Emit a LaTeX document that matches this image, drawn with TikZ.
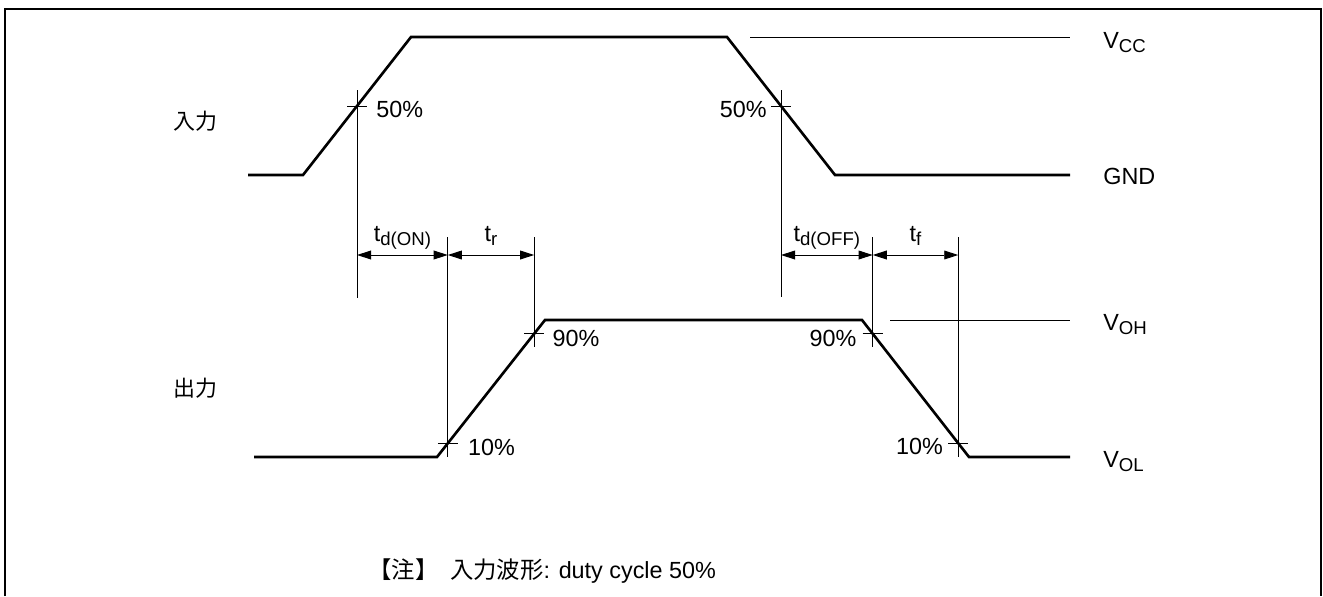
\documentclass[tikz,border=0pt]{standalone}
\usepackage{fontspec}
\setmainfont{Liberation Sans}
\newfontfamily\jpfont{Noto Sans CJK JP}
\usetikzlibrary{arrows.meta, calc}
\newcommand{\lowidx}[1]{\raisebox{-2.6pt}{\fontsize{10.6}{12}\selectfont #1}}

\begin{document}
\begin{tikzpicture}[x=0.02cm, y=-0.02cm,
  wave/.style={line width=1.5pt, line join=miter},
  guide/.style={line width=0.55pt},
  dim/.style={guide, >={Triangle[length=8pt, width=5pt]}, <->},
  lbl/.style={inner sep=0pt, font=\fontsize{13.3}{15}\selectfont}]
\useasboundingbox (0,0) rectangle (1323,596);
\draw[line width=1.1pt] (5,596) -- (5,9) -- (1321,9) -- (1321,596);

% input
\coordinate (in0) at (248,175);
\coordinate (in1) at (303,175);
\coordinate (in2) at (411,37);
\coordinate (in3) at (727,37);
\coordinate (in4) at (835,175);
\coordinate (in5) at (1070,175);
\draw[wave] (in0) -- (in1) -- (in2) -- (in3) -- (in4) -- (in5);
\coordinate (vcc) at (750,37);
\coordinate (vccend) at (1070,37);
\draw[guide] (vcc) -- (vccend);

% output
\coordinate (out0) at (254,457);
\coordinate (out1) at (437,457);
\coordinate (out2) at (545,320);
\coordinate (out3) at (862,320);
\coordinate (out4) at (969,457);
\coordinate (out5) at (1070,457);
\draw[wave] (out0) -- (out1) -- (out2) -- (out3) -- (out4) -- (out5);
\coordinate (voh) at (890,320);
\coordinate (vohend) at (1070,320);
\draw[guide] (voh) -- (vohend);

\coordinate (r50) at ($(in1)!0.5!(in2)$);
\coordinate (f50) at ($(in3)!0.5!(in4)$);
\coordinate (r10) at ($(out1)!0.1!(out2)$);
\coordinate (r90) at ($(out1)!0.9!(out2)$);
\coordinate (f90) at ($(out3)!0.1!(out4)$);
\coordinate (f10) at ($(out3)!0.9!(out4)$);

\draw[guide] (r50 |- 0,90) -- (r50 |- 0,298);
\draw[guide] (f50 |- 0,90) -- (f50 |- 0,297);
\draw[guide] (r10 |- 0,237) -- (r10 |- out1);
\draw[guide] (r90 |- 0,237) -- (r90 |- 0,347);
\draw[guide] (f90 |- 0,237) -- (f90 |- 0,347);
\draw[guide] (f10 |- 0,237) -- (f10 |- out4);
\foreach \p in {r50,f50,r10,r90,f90,f10}
  \draw[guide] (\p) ++(-10,0) -- ++(20,0);

\node[lbl, anchor=base west] (p50r) at ($(r50)+(19,11)$) {50\%};
\node[lbl, anchor=base east] (p50f) at ($(f50)+(-14,11)$) {50\%};
\node[lbl, anchor=base west] (p10r) at ($(r10)+(20,12)$) {10\%};
\node[lbl, anchor=base west] (p90r) at ($(r90)+(18,13)$) {90\%};
\node[lbl, anchor=base east] (p90f) at ($(f90)+(-16,13)$) {90\%};
\node[lbl, anchor=base east] (p10f) at ($(f10)+(-15,11)$) {10\%};

% timing
\coordinate (a1) at (r50 |- 0,255);
\coordinate (a2) at (r10 |- 0,255);
\coordinate (a3) at (r90 |- 0,255);
\coordinate (a4) at (f50 |- 0,255);
\coordinate (a5) at (f90 |- 0,255);
\coordinate (a6) at (f10 |- 0,255);
\draw[dim] (a1) -- (a2);
\draw[dim] (a2) -- (a3);
\draw[dim] (a4) -- (a5);
\draw[dim] (a5) -- (a6);
\node[lbl, anchor=base] (tdon) at ($(a1)!0.5!(a2)+(0,-14)$) {t\lowidx{d(ON)}};
\node[lbl, anchor=base] (tr) at ($(a2)!0.5!(a3)+(0,-14)$) {t\lowidx{r}};
\node[lbl, anchor=base] (tdoff) at ($(a4)!0.5!(a5)+(0,-14)$) {t\lowidx{d(OFF)}};
\node[lbl, anchor=base] (tf) at ($(a5)!0.5!(a6)+(0,-14)$) {t\lowidx{f}};

% levels
\node[lbl, anchor=base west] (lvcc) at ($(vccend)+(33,11)$) {V\lowidx{CC}};
\node[lbl, anchor=base west] (lgnd) at ($(in5)+(33,9)$) {GND};
\node[lbl, anchor=base west] (lvoh) at ($(vohend)+(33,10)$) {V\lowidx{OH}};
\node[lbl, anchor=base west] (lvol) at ($(out5)+(33,10)$) {V\lowidx{OL}};

\node[lbl, font=\jpfont\fontsize{12.5}{14}\selectfont] (input) at (195,121) {入力};
\node[lbl, font=\jpfont\fontsize{12.5}{14}\selectfont] (output) at (195,388) {出力};
\node[lbl, anchor=base west] (note) at (368,578) {{\jpfont 【注】\hspace{0.5em}入力波形}: duty cycle 50\%};
\end{tikzpicture}
\end{document}
